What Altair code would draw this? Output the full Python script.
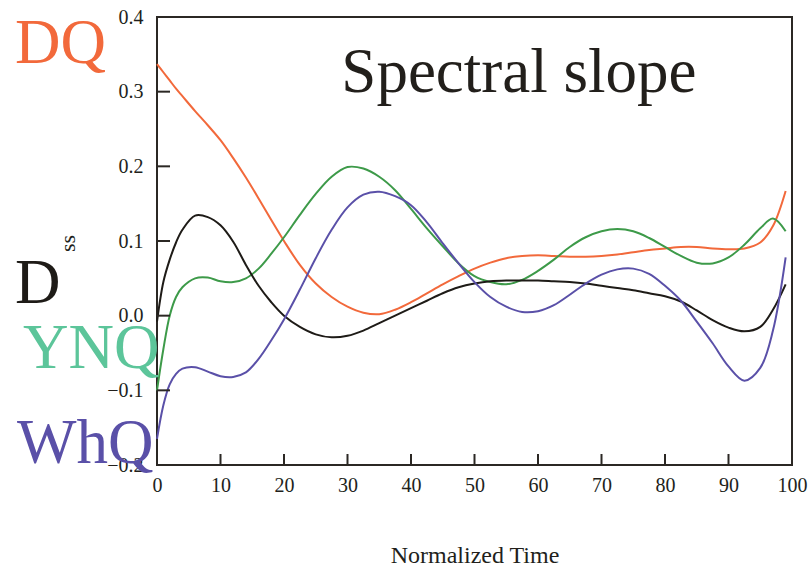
import altair as alt
import pandas as pd

# ---- data -------------------------------------------------------------
t = [0, 1, 2, 3, 4, 6, 8, 10, 12, 14, 16, 18, 20,
     22.5, 25, 27.5, 30, 32.5, 35, 37.5, 40, 42.5, 45,
     47.5, 50, 52.5, 55, 57.5, 60, 62.5, 65, 67.5, 70,
     72.5, 75, 77.5, 80, 82.5, 85, 87.5, 90, 92.5, 95,
     97, 99]

dq = [0.337, 0.326, 0.315, 0.304, 0.294,
      0.274, 0.255, 0.235, 0.211, 0.185, 0.157, 0.128, 0.100,
      0.068, 0.043, 0.025, 0.012, 0.004, 0.002, 0.008, 0.018, 0.030, 0.042,
      0.053, 0.063, 0.071, 0.077, 0.080, 0.081, 0.080, 0.079, 0.079, 0.080,
      0.082, 0.085, 0.088, 0.090, 0.092, 0.092, 0.090, 0.089, 0.090, 0.098,
      0.120, 0.167]

ynq = [-0.100, -0.045, 0.000, 0.025, 0.038,
       0.050, 0.051, 0.046, 0.045, 0.050, 0.063, 0.083, 0.105,
       0.135, 0.163, 0.186, 0.199, 0.197, 0.186, 0.168, 0.143, 0.117, 0.093,
       0.070, 0.053, 0.045, 0.042, 0.048, 0.060, 0.075, 0.092, 0.105, 0.113,
       0.116, 0.113, 0.104, 0.092, 0.080, 0.071, 0.070, 0.078, 0.095, 0.117,
       0.130, 0.113]

d = [-0.008, 0.045, 0.075, 0.098, 0.115,
     0.134, 0.132, 0.121, 0.099, 0.068, 0.040, 0.018, 0.000,
     -0.015, -0.025, -0.029, -0.027, -0.020, -0.010, 0.000, 0.010, 0.020, 0.030,
     0.038, 0.043, 0.046, 0.047, 0.047, 0.047, 0.046, 0.045, 0.043, 0.040,
     0.037, 0.034, 0.030, 0.026, 0.019, 0.007, -0.006, -0.016, -0.021, -0.015,
     0.008, 0.042]

whq = [-0.165, -0.120, -0.092, -0.078, -0.071,
       -0.069, -0.075, -0.081, -0.082, -0.076, -0.058, -0.033, -0.005,
       0.035, 0.077, 0.115, 0.145, 0.162, 0.166, 0.160, 0.148, 0.125, 0.097,
       0.070, 0.045, 0.025, 0.012, 0.005, 0.006, 0.014, 0.028, 0.043, 0.055,
       0.062, 0.063, 0.056, 0.040, 0.020, -0.008, -0.037, -0.068, -0.087, -0.070,
       -0.020, 0.078]

series_names = ["DQ", "YNQ", "D", "WhQ"]
line_colors = ["#F2693B", "#3D9A49", "#1E1B17", "#5A50A8"]
label_colors = ["#F2693B", "#5CC59A", "#1E1B17", "#5A50A8"]

x_ticks = [0, 10, 20, 30, 40, 50, 60, 70, 80, 90, 100]
y_ticks = [-0.2, -0.1, 0.0, 0.1, 0.2, 0.3, 0.4]

chart_title = "Spectral slope"
x_title = "Normalized Time"
y_title = "ss"

# ---- build table ------------------------------------------------------
rows = []
for name, vals in zip(series_names, [dq, ynq, d, whq]):
    for ti, vi in zip(t, vals):
        rows.append({"t": ti, "v": vi, "series": name})
df = pd.DataFrame(rows)

W, H = 635, 448
FONT = "Liberation Serif"
AX = "#2B2824"
TXT = "#221F1B"

xs = alt.Scale(domain=[0, 100], nice=False)
ys = alt.Scale(domain=[-0.2, 0.4], nice=False, zero=False)

lines = alt.Chart(df).mark_line(strokeWidth=2, interpolate="catmull-rom").encode(
    x=alt.X("t:Q", scale=xs,
            axis=alt.Axis(values=x_ticks, title=x_title, ticks=False, domain=False,
                          grid=False, labelPadding=10, labelFontSize=20,
                          labelFont=FONT, labelColor=TXT,
                          labelFlush=False, labelOverlap=False,
                          titleFont=FONT, titleColor=TXT,
                          titleFontSize=24, titleFontWeight="normal",
                          titleY=97, titleBaseline="alphabetic")),
    y=alt.Y("v:Q", scale=ys,
            axis=alt.Axis(values=y_ticks, title=y_title, ticks=False, domain=False,
                          grid=False, labelPadding=14, labelFontSize=20,
                          labelFont=FONT, labelColor=TXT,
                          labelFlush=False, labelOverlap=False,
                          format=".1f", labelExpr="replace(datum.label, '-', '\u2212')",
                          titleFont=FONT, titleColor=TXT,
                          titleFontSize=22, titleFontWeight="normal",
                          titleAngle=270, titleX=-90, titleY=226,
                          titleAlign="center", titleBaseline="middle")),
    color=alt.Color("series:N", legend=None,
                    scale=alt.Scale(domain=series_names, range=line_colors)),
    detail="series:N",
)

ytick_df = pd.DataFrame({"v": y_ticks})
xtick_df = pd.DataFrame({"t": x_ticks})

yt = alt.Chart(ytick_df).mark_rule(color=AX, strokeWidth=2).encode(
    y=alt.Y("v:Q", scale=ys), x=alt.value(0), x2=alt.value(13))
xt = alt.Chart(xtick_df).mark_rule(color=AX, strokeWidth=2).encode(
    x=alt.X("t:Q", scale=xs), y=alt.value(H), y2=alt.value(H - 11))

title_df = pd.DataFrame({"t": [57], "v": [0.299], "label": [chart_title]})
title_mark = alt.Chart(title_df).mark_text(
    font=FONT, fontSize=63, color=TXT, align="center", baseline="alphabetic"
).encode(x=alt.X("t:Q", scale=xs), y=alt.Y("v:Q", scale=ys), text="label:N")

label_px = {"DQ": (-142, 46), "D": (-142, 286), "YNQ": (-134, 351), "WhQ": (-140, 446)}
label_layers = []
for name, col in zip(series_names, label_colors):
    px, py = label_px[name]
    label_layers.append(
        alt.Chart(pd.DataFrame({"label": [name]})).mark_text(
            font=FONT, fontSize=63, color=col, align="left", baseline="alphabetic"
        ).encode(x=alt.value(px), y=alt.value(py), text="label:N")
    )

chart = alt.layer(lines, yt, xt, title_mark, *label_layers).properties(
    width=W, height=H,
    background="white",
    autosize=alt.AutoSizeParams(type="none"),
    padding={"left": 157, "top": 17, "right": 18, "bottom": 103},
).configure_view(
    stroke=AX, strokeWidth=2
)

chart.save("out.html", embed_options={"renderer": "svg", "actions": False})
